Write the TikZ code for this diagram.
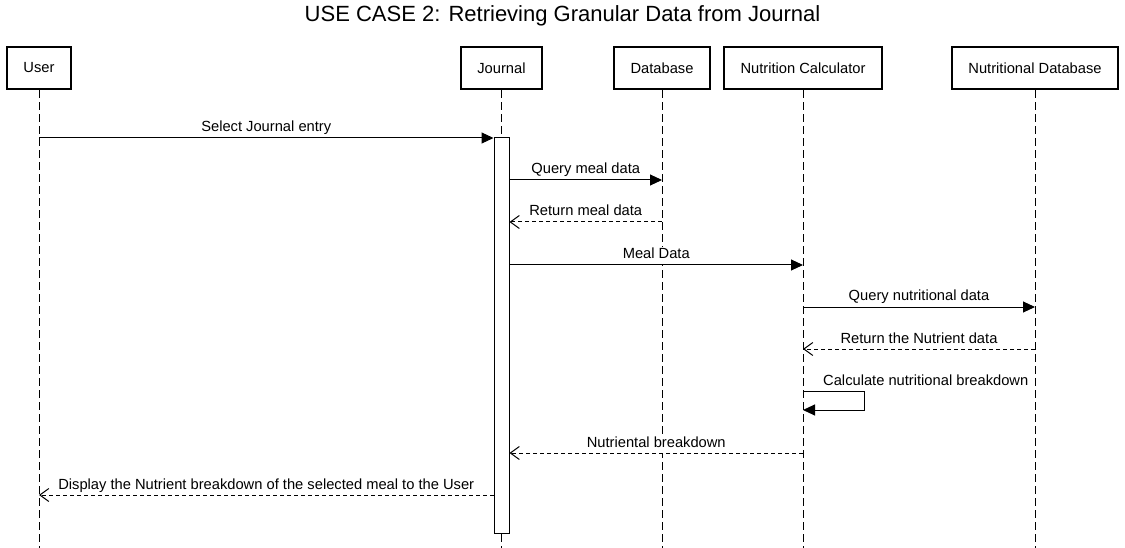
\documentclass[tikz,border=0pt]{standalone}
\usepackage{fontspec}
\setmainfont{Liberation Sans}
\usetikzlibrary{arrows.meta}
\tikzset{
actor/.style={rectangle, minimum height=42pt, inner xsep=0pt, text centered, draw=black, line width=2.4pt, font=\fontsize{14.7}{17}\selectfont},
lifeline/.style={line width=1pt, dash pattern=on 8pt off 4pt},
activation/.style={rectangle, draw=black, fill=white, line width=1pt, minimum width=15pt, minimum height=395pt, inner sep=0pt},
call/.style={line width=1pt, -{Triangle[length=12pt,width=11pt]}},
reply/.style={line width=1pt, dash pattern=on 4pt off 3pt, -{Straight Barb[length=9pt,width=13pt]}},
msg/.style={font=\fontsize{14.7}{17}\selectfont, fill=white, inner sep=1pt, text depth=4.5pt, anchor=south}}

\begin{document}
\begin{tikzpicture}[x=1pt, y=-1pt]
\useasboundingbox (0,0) rectangle (1125,548);
\node (title) at (562.5,16) {\fontsize{22}{25}\selectfont USE CASE 2: Retrieving Granular Data from Journal};

\node (user) [actor, minimum width=64pt] at (39,68) {User};
\node (journal) [actor, minimum width=81pt] at (501.5,68) {Journal};
\node (db) [actor, minimum width=96pt] at (662,68) {Database};
\node (calc) [actor, minimum width=158pt] at (803,68) {Nutrition Calculator};
\node (ndb) [actor, minimum width=166pt] at (1035,68) {Nutritional Database};
\coordinate (bottom) at (0,548);

\draw [lifeline] (user) -- (user |- bottom);
\draw [lifeline] (journal) -- (journal |- bottom);
\draw [lifeline] (db) -- (db |- bottom);
\draw [lifeline] (calc) -- (calc |- bottom);
\draw [lifeline] (ndb) -- (ndb |- bottom);

\node (act) [activation] at (501.5,335.5) {};

% messages
\coordinate (m1) at (0,138);
\coordinate (m2) at (0,180);
\coordinate (m3) at (0,222);
\coordinate (m4) at (0,265);
\coordinate (m5) at (0,307);
\coordinate (m6) at (0,349);
\coordinate (m7a) at (864,391);
\coordinate (m7b) at (864,410);
\coordinate (m8) at (0,453);
\coordinate (m9) at (0,495);

\draw [call] (user |- m1) -- node [msg] {Select Journal entry} (act.west |- m1);
\draw [call] (act.east |- m2) -- node [msg] {Query meal data} (db |- m2);
\draw [reply] (db |- m3) -- node [msg] {Return meal data} (act.east |- m3);
\draw [call] (act.east |- m4) -- node [msg] {Meal Data} (calc |- m4);
\draw [call] (calc |- m5) -- node [msg] {Query nutritional data} (ndb |- m5);
\draw [reply] (ndb |- m6) -- node [msg] {Return the Nutrient data} (calc |- m6);
\draw [call] (calc |- m7a) -- (m7a) -- (m7b) -- (calc |- m7b);
\node (selflbl) [msg, anchor=south west] at (822,391) {Calculate nutritional breakdown};
\draw [reply] (calc |- m8) -- node [msg] {Nutriental breakdown} (act.east |- m8);
\draw [reply] (act.west |- m9) -- node [msg] {Display the Nutrient breakdown of the selected meal to the User} (user |- m9);
\end{tikzpicture}
\end{document}
